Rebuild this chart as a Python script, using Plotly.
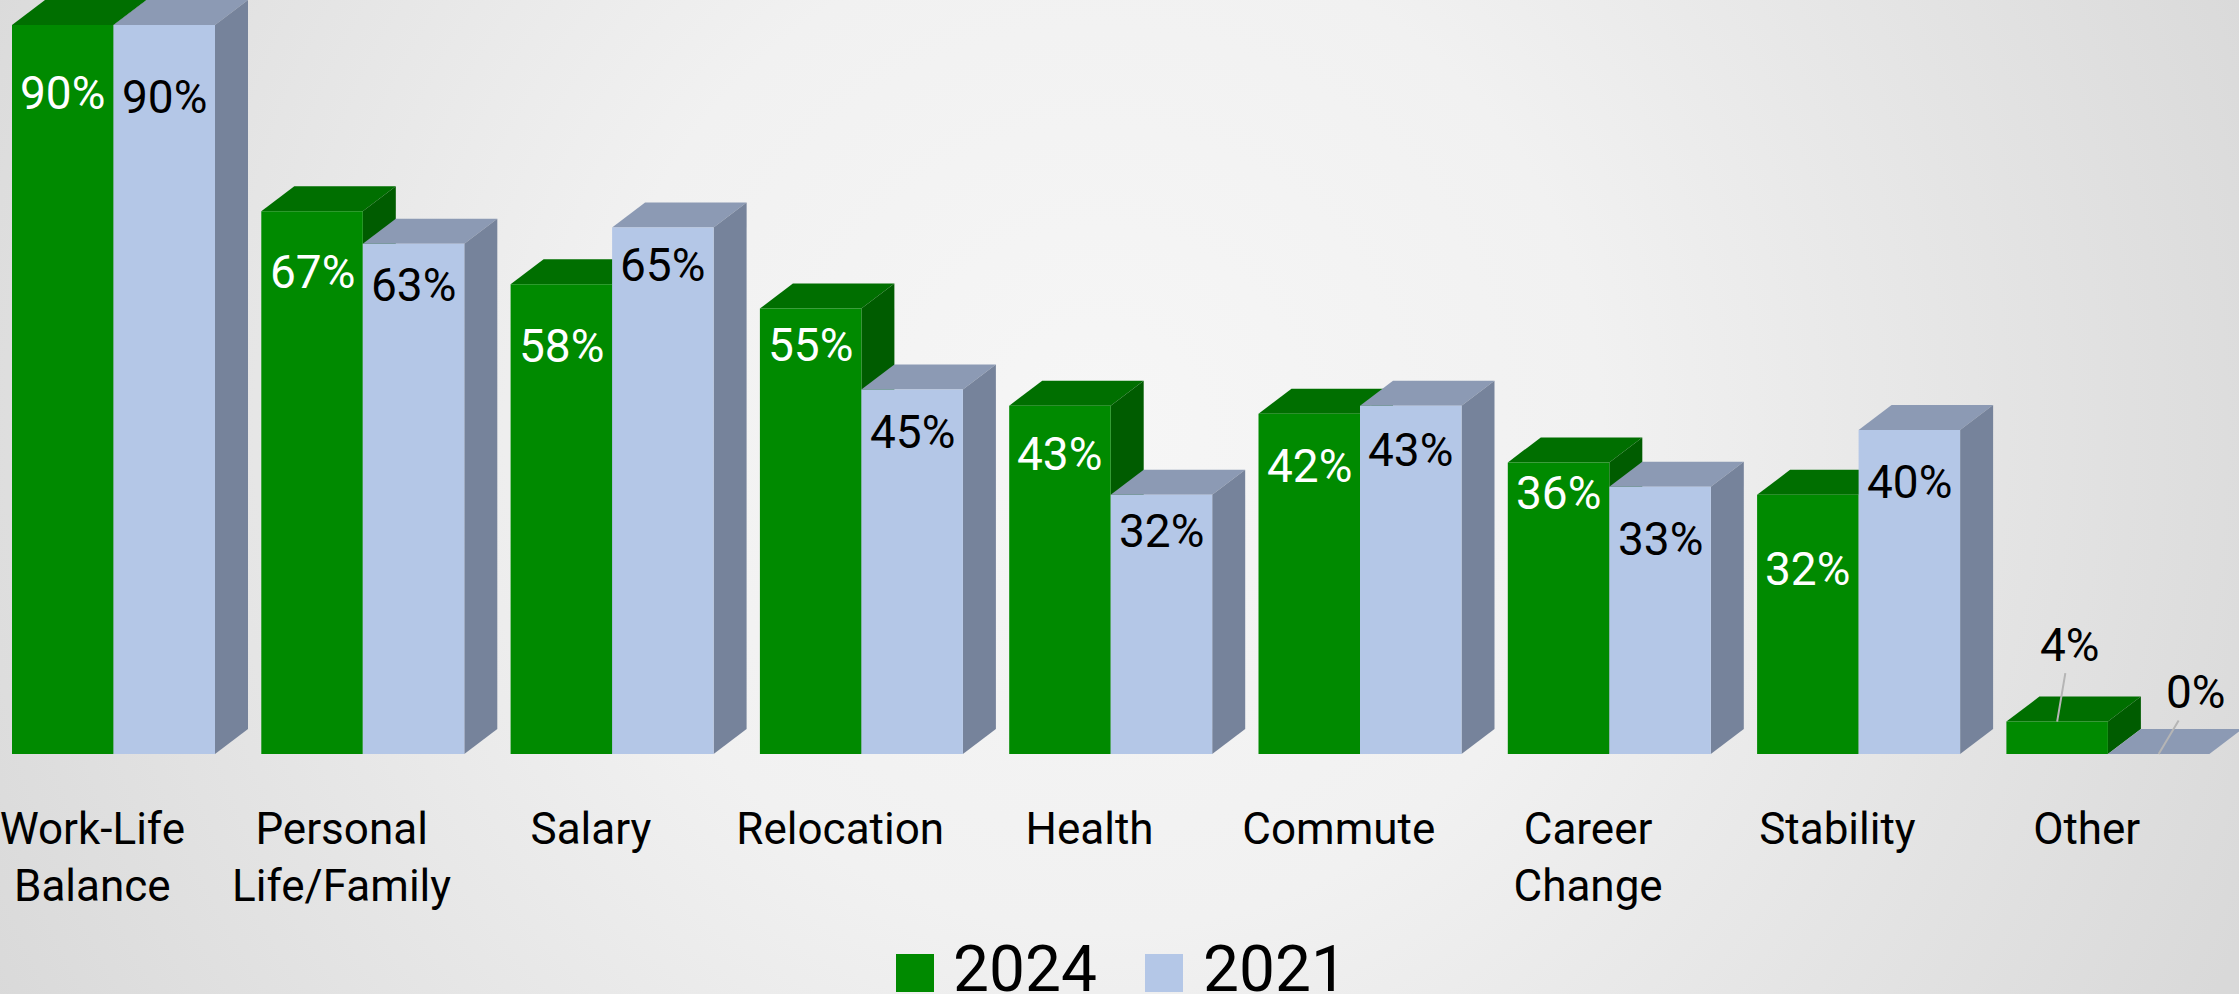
import base64
import plotly.graph_objects as go

# ---------------- data ----------------
categories = ["Work-Life Balance", "Personal Life/Family", "Salary", "Relocation",
              "Health", "Commute", "Career Change", "Stability", "Other"]
tick_labels = ["Work-Life<br>Balance", "Personal<br>Life/Family", "Salary", "Relocation",
               "Health", "Commute", "Career<br>Change", "Stability", "Other"]
pct_2024 = [90, 67, 58, 55, 43, 42, 36, 32, 4]
pct_2021 = [90, 63, 65, 45, 32, 43, 33, 40, 0]
series_names = ["2024", "2021"]

# ---------------- style ----------------
W, H = 2239, 994
PLOT_H = 754                      # pixel height of plotting area
PX_PER_UNIT_X = 249.3
PX_PER_PCT = 8.1
X_LEFT_PX = 113.5                 # pixel centre of first group

BAR_W = 101.5 / PX_PER_UNIT_X
DX = 33 / PX_PER_UNIT_X           # 3-D depth (x)
DY = 25 / PX_PER_PCT              # 3-D depth (y)

GREEN = "#008a00"
GREEN_TOP = "#006f00"
GREEN_SIDE = "#005c00"
BLUE = "#b4c7e7"
BLUE_TOP = "#8c9ab4"
BLUE_SIDE = "#76839b"
FONT = "Roboto"

# pixel drop of each value label below the bar's front top edge
DROP_2024 = [68, 61, 62, 36, 48, 52, 31, 74]
DROP_2021 = [72, 41, 37, 42, 36, 44, 52, 52]

x_range = [-X_LEFT_PX / PX_PER_UNIT_X, (W - X_LEFT_PX) / PX_PER_UNIT_X]
y_range = [0, PLOT_H / PX_PER_PCT]
xs = list(range(len(categories)))

fig = go.Figure()
fig.add_trace(go.Bar(x=xs, y=pct_2024, offset=-BAR_W, width=BAR_W, name=series_names[0],
                     marker=dict(color=GREEN, line=dict(width=0)), showlegend=False,
                     customdata=categories, hovertemplate="%{customdata}: %{y}%<extra>2024</extra>"))
fig.add_trace(go.Bar(x=xs, y=pct_2021, offset=0, width=BAR_W, name=series_names[1],
                     marker=dict(color=BLUE, line=dict(width=0)), showlegend=False,
                     customdata=categories, hovertemplate="%{customdata}: %{y}%<extra>2021</extra>"))

shapes = []


def faces(x0, val, top_c, side_c):
    x1 = x0 + BAR_W
    top = (f"M {x0},{val} L {x1},{val} L {x1 + DX},{val + DY} "
           f"L {x0 + DX},{val + DY} Z")
    side = (f"M {x1},0 L {x1 + DX},{DY} L {x1 + DX},{val + DY} L {x1},{val} Z")
    return [
        dict(type="path", path=top, xref="x", yref="y", fillcolor=top_c,
             line=dict(width=0), layer="below"),
        dict(type="path", path=side, xref="x", yref="y", fillcolor=side_c,
             line=dict(width=0), layer="below"),
    ]


for i, (g, b) in enumerate(zip(pct_2024, pct_2021)):
    shapes += faces(i - BAR_W, g, GREEN_TOP, GREEN_SIDE)
    shapes += faces(i, b, BLUE_TOP, BLUE_SIDE)

annotations = []
for i, (g, b) in enumerate(zip(pct_2024, pct_2021)):
    if i < len(DROP_2024):
        annotations.append(dict(x=i - BAR_W / 2, y=g, yshift=-DROP_2024[i], text=f"{g}%",
                                showarrow=False, xanchor="center", yanchor="middle",
                                font=dict(family=FONT, size=46, color="white")))
        annotations.append(dict(x=i + BAR_W / 2, y=b, yshift=-DROP_2021[i], text=f"{b}%",
                                showarrow=False, xanchor="center", yanchor="middle",
                                font=dict(family=FONT, size=46, color="black")))
    else:
        annotations.append(dict(x=i - BAR_W / 2, y=g, text=f"{g}%", showarrow=True,
                                arrowhead=0, arrowwidth=2, arrowcolor="#b5b5b5",
                                ax=13, ay=-77, standoff=0,
                                font=dict(family=FONT, size=46, color="black")))
        annotations.append(dict(x=i + BAR_W / 2, y=b, text=f"{b}%", showarrow=True,
                                arrowhead=0, arrowwidth=2, arrowcolor="#b5b5b5",
                                ax=37, ay=-62, standoff=0,
                                font=dict(family=FONT, size=46, color="black")))


# ---------------- manual legend ----------------
def pxx(p):
    return p / W


def pxy(p):
    return (PLOT_H - p) / PLOT_H


for (sx0, sx1, col, tx, name) in [(896, 934, GREEN, 951, series_names[0]),
                                  (1145, 1183, BLUE, 1201, series_names[1])]:
    shapes.append(dict(type="rect", xref="paper", yref="paper", x0=pxx(sx0), x1=pxx(sx1),
                       y0=pxy(992), y1=pxy(954), fillcolor=col, line=dict(width=0)))
    annotations.append(dict(xref="paper", yref="paper", x=pxx(tx), y=pxy(969), text=name,
                            showarrow=False, xanchor="left", yanchor="middle",
                            font=dict(family=FONT, size=64, color="black")))

# ---------------- background gradient ----------------
svg = f"""<svg xmlns='http://www.w3.org/2000/svg' width='{W}' height='{H}' viewBox='0 0 {W} {H}' preserveAspectRatio='none'>
<defs><radialGradient id='g' cx='1100' cy='430' r='1250' gradientUnits='userSpaceOnUse'>
<stop offset='0' stop-color='#f6f6f6'/><stop offset='0.4' stop-color='#f1f1f1'/>
<stop offset='1' stop-color='#d9d9d9'/></radialGradient></defs>
<rect width='{W}' height='{H}' fill='url(#g)'/></svg>"""
bg_src = "data:image/svg+xml;base64," + base64.b64encode(svg.encode()).decode()

fig.update_layout(
    width=W, height=H,
    margin=dict(l=0, r=0, t=0, b=H - PLOT_H),
    paper_bgcolor="#ececec",
    plot_bgcolor="rgba(0,0,0,0)",
    barmode="overlay",
    showlegend=False,
    shapes=shapes,
    annotations=annotations,
    images=[dict(source=bg_src, xref="paper", yref="paper", x=0, y=1,
                 sizex=1, sizey=H / PLOT_H, sizing="stretch", layer="below",
                 xanchor="left", yanchor="top")],
    xaxis=dict(range=x_range, tickvals=[i - 0.085 for i in xs], ticktext=tick_labels,
               showgrid=False, zeroline=False, showline=False, ticks="",
               ticklabelstandoff=45, ticklabeloverflow="allow",
               tickfont=dict(family=FONT, size=44, color="black"), fixedrange=True),
    yaxis=dict(range=y_range, visible=False, showgrid=False, zeroline=False, fixedrange=True),
    font=dict(family=FONT),
)

fig.write_html("out.html", config={"displayModeBar": False},
               post_script="document.body.style.margin='0';document.body.style.overflow='hidden';")
